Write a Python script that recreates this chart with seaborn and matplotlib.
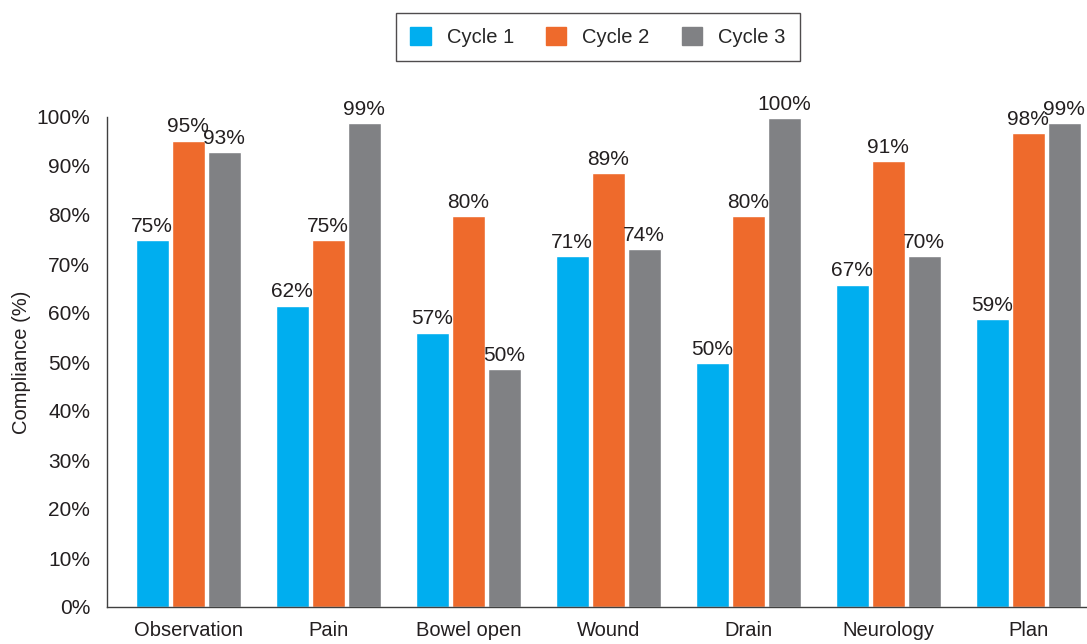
import numpy as np
import pandas as pd
import matplotlib
matplotlib.use('Agg')
import matplotlib.pyplot as plt
import seaborn as sns

categories = ['Observation', 'Pain', 'Bowel open', 'Wound', 'Drain', 'Neurology', 'Plan']
cycles = ['Cycle 1', 'Cycle 2', 'Cycle 3']
# bar heights as drawn
cycle1 = [74.8, 61.5, 56.0, 71.6, 49.8, 65.8, 58.8]
cycle2 = [95.2, 74.8, 79.8, 88.6, 79.8, 91.0, 96.7]
cycle3 = [92.8, 98.8, 48.6, 73.0, 99.8, 71.6, 98.8]
# printed labels
labels1 = ['75%', '62%', '57%', '71%', '50%', '67%', '59%']
labels2 = ['95%', '75%', '80%', '89%', '80%', '91%', '98%']
labels3 = ['93%', '99%', '50%', '74%', '100%', '70%', '99%']
yticks = [0, 10, 20, 30, 40, 50, 60, 70, 80, 90, 100]

colors = ['#00AEEF', '#EE6A2C', '#808184']
txt = '#231f20'

df = pd.DataFrame({
    'Category': categories * 3,
    'Cycle': [c for c in cycles for _ in categories],
    'Value': cycle1 + cycle2 + cycle3,
})

sns.set_style('white')
plt.rcParams['font.family'] = ['Liberation Sans', 'DejaVu Sans']

fig = plt.figure(figsize=(10.87, 6.44), dpi=100)
ax = fig.add_axes([107 / 1087, 1 - 607 / 644, 1 - 107 / 1087, (607 - 117) / 644])

sns.barplot(data=df, x='Category', y='Value', hue='Cycle', palette=colors,
            width=0.77, gap=0.08, saturation=1, ax=ax, legend=False)

for cont, labs in zip(ax.containers, [labels1, labels2, labels3]):
    ax.bar_label(cont, labels=labs, padding=3, fontsize=15, color=txt, clip_on=False)

ax.set_ylim(0, 100)
ax.set_xlim(-0.58, 6.42)
ax.set_yticks(yticks)
ax.set_yticklabels([f'{t}%' for t in yticks], fontsize=15, color=txt)
ax.set_xticks(range(len(categories)))
ax.set_xticklabels(categories, fontsize=14.5, color=txt)
ax.set_xticks(np.arange(0.5, 6, 1), minor=True)
ax.tick_params(axis='x', which='major', length=0, pad=10)
ax.tick_params(axis='x', which='minor', length=6, width=1, color='#404040', direction='out')
ax.tick_params(axis='y', length=6, width=1, color='#404040', direction='out', pad=6)
ax.set_xlabel('')
ax.set_ylabel('Compliance (%)', fontsize=14.5, color=txt, labelpad=4)

for s in ['top', 'right']:
    ax.spines[s].set_visible(False)
for s in ['left', 'bottom']:
    ax.spines[s].set_color('#404040')
    ax.spines[s].set_linewidth(1)

handles = [plt.Rectangle((0, 0), 1, 1, color=c) for c in colors]
leg = fig.legend(handles, cycles, loc='center', bbox_to_anchor=(598 / 1087, 1 - 37 / 644),
                 ncol=3, frameon=True, fancybox=False, fontsize=14.5,
                 handlelength=1.0, handleheight=1.0, columnspacing=1.6, handletextpad=0.8,
                 borderpad=0.7, borderaxespad=0)
leg.get_frame().set_edgecolor(txt)
leg.get_frame().set_linewidth(1)

fig.savefig('out.png', dpi=100)
